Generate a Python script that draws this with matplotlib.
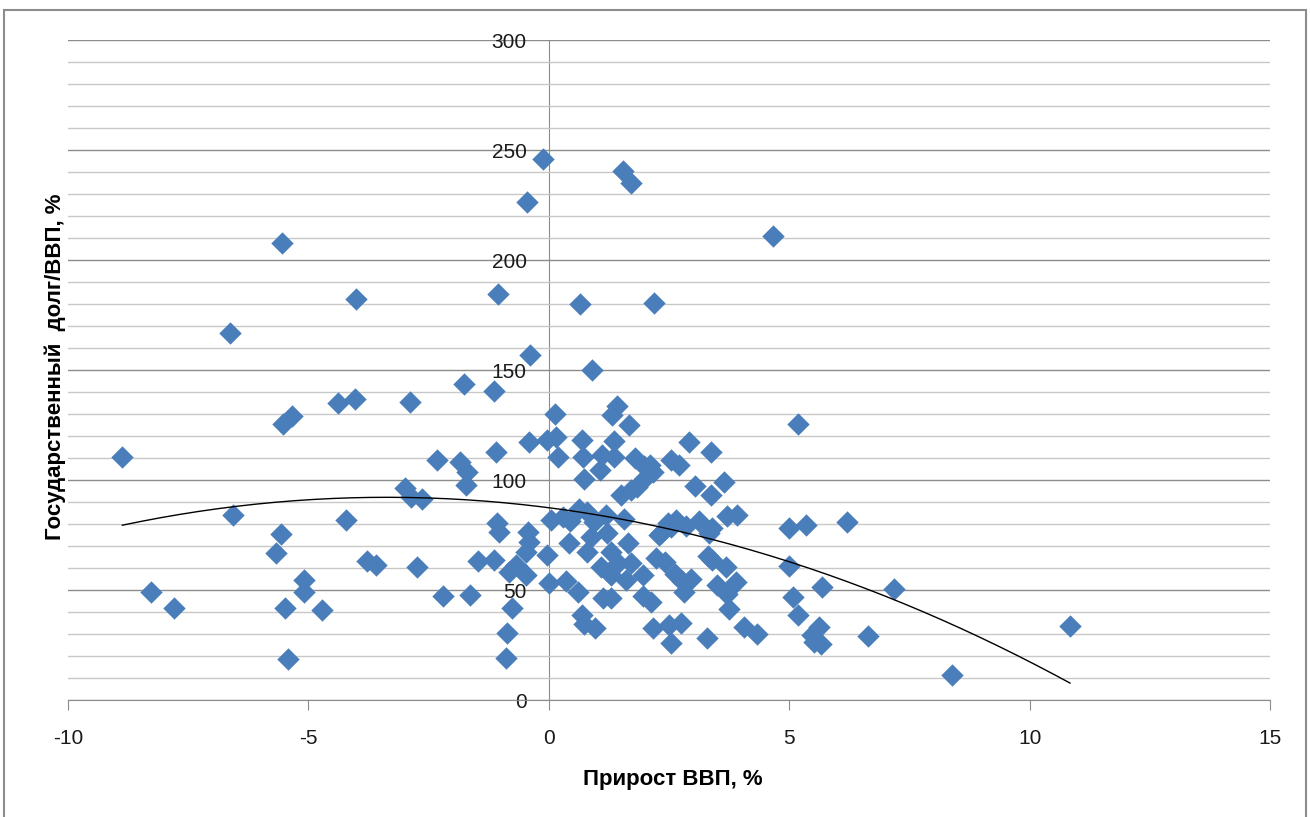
import numpy as np
import matplotlib
matplotlib.use("Agg")
import matplotlib.pyplot as plt
from matplotlib.patches import Rectangle

# прирост ВВП, % (ось X) и госдолг/ВВП, % (ось Y)
gdp_growth = [
    -8.87, -8.28, -7.80, -6.63, -6.57, -5.54, -5.58, -5.68, -5.53, -5.34,
    -5.10, -5.10, -5.49, -5.43, -4.71, -4.39, -4.04, -4.01, -4.21, -3.78,
    -3.60, -2.88, -3.00, -2.86, -2.63, -2.75, -2.32, -2.21, -1.85, -1.70,
    -1.72, -1.64, -1.47, -1.15, -1.09, -1.07, -1.04, -1.76, -1.15, -1.06,
    -0.39, -0.46, -0.13, -0.42, -0.44, -0.41, -0.48, -0.69, -0.83, -0.48,
    -0.76, -0.86, -0.88, -0.03, -0.03,
    0.13, 1.41, 1.32, 1.67, 0.65, 2.18, 0.89, 1.55, 1.72, 4.67,
    5.19, 0.15, 0.69, 1.35, 0.20, 0.72, 1.10, 1.36, 1.79, 2.92,
    3.37, 2.55, 2.70, 2.10, 1.97, 2.16, 1.06, 0.73, 1.98, 1.84,
    1.71, 1.51, 3.04, 3.65, 3.37, 3.70, 3.92, 5.00, 5.35, 6.20,
    4.99, 5.68, 5.07, 5.18, 7.18, 5.62, 5.48, 5.67, 5.51, 6.64,
    10.84, 8.38, 0.04, 0.30, 0.45, 0.63, 0.79, 0.94, 1.20, 1.57,
    0.42, 0.80, 0.87, 1.22, 1.64, 1.29, 1.08, 1.43, 1.71, 1.29,
    1.60, 1.95, 2.23, 0.01, 0.36, 0.60, 1.12, 1.29, 1.95, 2.12,
    0.70, 0.74, 0.96, 2.17, 2.50, 2.75, 2.54, 3.28, 4.06, 4.34,
    2.41, 2.63, 2.81, 2.95, 2.78, 3.32, 3.40, 3.68, 3.89, 3.49,
    3.70, 3.75, 2.33, 2.47, 2.64, 2.85, 3.13, 3.40, 3.33, 2.29,
    2.54,
]
debt_to_gdp = [
    110.6, 49.0, 42.0, 167.0, 84.1, 207.5, 75.3, 67.0, 125.5, 129.0,
    54.5, 49.0, 42.0, 18.5, 40.9, 135.0, 137.0, 182.3, 81.8, 63.3,
    61.4, 135.5, 96.2, 92.4, 91.4, 60.6, 109.1, 47.3, 108.3, 103.8,
    97.7, 47.7, 63.2, 63.6, 112.9, 80.3, 76.5, 143.6, 140.6, 184.5,
    156.8, 226.5, 246.1, 117.5, 76.5, 72.0, 67.4, 61.4, 58.3, 56.8,
    41.7, 30.4, 18.9, 65.9, 118.2,
    130.0, 133.6, 129.5, 125.0, 179.8, 180.6, 150.0, 240.6, 235.2, 210.8,
    125.6, 119.7, 118.2, 117.7, 110.3, 110.3, 111.4, 110.6, 110.2, 117.1,
    112.9, 109.0, 107.0, 106.8, 106.4, 103.8, 104.5, 100.5, 100.5, 97.0,
    95.5, 93.2, 97.3, 99.2, 93.2, 83.5, 84.1, 78.4, 79.4, 80.7,
    61.1, 51.5, 46.8, 38.5, 50.6, 33.3, 29.6, 25.6, 26.4, 28.9,
    33.8, 11.4, 81.8, 83.0, 81.5, 86.8, 85.6, 81.1, 84.0, 82.5,
    71.2, 67.4, 74.2, 75.8, 71.2, 67.4, 60.6, 62.1, 62.1, 56.8,
    54.5, 56.8, 64.4, 53.0, 54.3, 49.2, 46.2, 46.2, 47.5, 44.7,
    38.6, 34.6, 32.6, 32.6, 34.1, 34.8, 25.8, 28.0, 33.3, 30.0,
    62.9, 57.5, 49.2, 54.8, 54.0, 65.5, 63.6, 60.6, 53.8, 52.3,
    48.0, 41.5, 75.8, 80.3, 81.8, 79.0, 81.3, 78.0, 75.8, 75.0,
    78.8,
]

trend_coef = [-0.4185, -2.816, 87.4]

x_ticks = [-10, -5, 0, 5, 10, 15]
y_ticks = [0, 50, 100, 150, 200, 250, 300]

x = np.array(gdp_growth)
y = np.array(debt_to_gdp)

xt = np.linspace(x.min(), x.max(), 200)
yt = np.polyval(trend_coef, xt)

plt.rcParams['font.family'] = ['Liberation Sans', 'DejaVu Sans']
plt.rcParams['axes.unicode_minus'] = False

fig = plt.figure(figsize=(13.1, 8.17), dpi=100)
ax = fig.add_axes([68 / 1310, 1 - 700 / 817, 1202 / 1310, 660 / 817])

ax.set_xlim(-10, 15)
ax.set_ylim(0, 300)
ax.set_xticks(x_ticks)
ax.set_yticks(y_ticks)
ax.set_yticks(np.arange(0, 301, 10), minor=True)

ax.grid(which='minor', axis='y', color='#c8c8c8', lw=1.0, zorder=0)
ax.grid(which='major', axis='y', color='#8c8c8c', lw=1.0, zorder=0)
ax.grid(False, axis='x')

for s in ['top', 'right']:
    ax.spines[s].set_visible(False)
ax.spines['left'].set_position(('data', 0))
ax.spines['left'].set_color('#8c8c8c')
ax.spines['bottom'].set_color('#8c8c8c')
ax.spines['left'].set_zorder(1)

ax.tick_params(axis='x', which='major', direction='out', length=7, color='#8c8c8c',
               labelsize=15, pad=14, labelcolor='#1a1a1a')
ax.tick_params(axis='y', which='both', length=0, labelsize=15, pad=16, labelcolor='#1a1a1a')
ax.tick_params(axis='x', which='minor', length=0)

ax.scatter(x, y, marker='D', s=130, color='#4a7ebb', linewidths=0, zorder=3)
ax.plot(xt, yt, color='black', lw=1.0, zorder=4)

fig.text(55 / 1310, 1 - 367 / 817, 'Государственный  долг/ВВП, %', rotation=90,
         ha='center', va='center', fontsize=16, fontweight='bold')
fig.text(673 / 1310, 1 - 779 / 817, 'Прирост ВВП, %', ha='center', va='center',
         fontsize=16, fontweight='bold')

fig.patches.append(Rectangle((4 / 1310, -0.01), 1302 / 1310, 1 - 10 / 817 + 0.01,
                             transform=fig.transFigure, fill=False,
                             edgecolor='#8c8c8c', lw=1.5))

fig.savefig('out.png', dpi=100)
